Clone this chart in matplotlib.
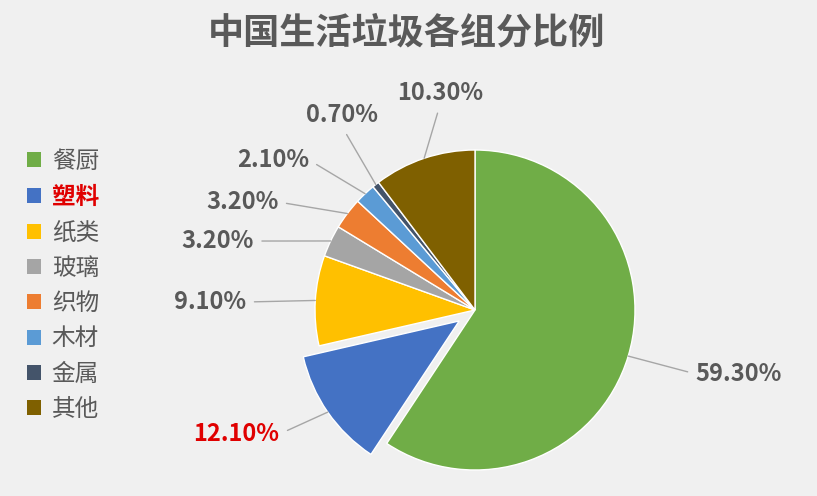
import numpy as np
import matplotlib
matplotlib.use("Agg")
import matplotlib.pyplot as plt

plt.rcParams['font.family'] = ['Noto Sans CJK SC', 'DejaVu Sans']

# data
categories = ['餐厨', '塑料', '纸类', '玻璃', '织物', '木材', '金属', '其他']
shares = [59.3, 12.1, 9.1, 3.2, 3.2, 2.1, 0.7, 10.3]
colors = ['#70AD47', '#4472C4', '#FFC000', '#A5A5A5', '#ED7D31', '#5B9BD5', '#44546A', '#7F6000']
explode = [0, 0.12, 0, 0, 0, 0, 0, 0]

# label text positions (data units, pie radius = 1) and where the leader leaves the text
label_pos = [(1.65, -0.40), (-1.49, -0.775), (-1.656, 0.05), (-1.61, 0.431),
             (-1.456, 0.675), (-1.2625, 0.9375), (-0.83, 1.219), (-0.219, 1.356)]
label_rel = [(0, 0.5), (1, 0.5), (1, 0.5), (1, 0.5), (1, 0.5), (1, 0.5), (0.5, 0), (0.5, 0)]

TEXT = '#595959'
BG = '#F0F0F0'

fig = plt.figure(figsize=(8.17, 4.96), dpi=100, facecolor=BG)
ax = fig.add_axes([0, 0, 1, 1])
ax.set_facecolor(BG)

wedges, _ = ax.pie(shares, colors=colors, explode=explode, startangle=90,
                   counterclock=False, radius=1,
                   wedgeprops=dict(edgecolor='white', linewidth=1))

# pie centre at (475, 310) px, radius 160 px
R = 160.0
ax.set_xlim(-475 / R, (817 - 475) / R)
ax.set_ylim(-(496 - 310) / R, 310 / R)
ax.set_aspect('auto')
ax.axis('off')

for i, w in enumerate(wedges):
    ang = np.deg2rad((w.theta1 + w.theta2) / 2)
    cx, cy = w.center
    anchor = (cx + np.cos(ang), cy + np.sin(ang))
    col = '#E00000' if i == 1 else TEXT
    ax.annotate(f'{shares[i]:.2f}%', xy=anchor, xytext=label_pos[i],
                ha='center', va='center', fontsize=17, fontweight='bold', color=col,
                arrowprops=dict(arrowstyle='-', color='#A6A6A6', lw=1,
                                shrinkA=4, shrinkB=0, relpos=label_rel[i]))

leg = ax.legend(wedges, categories, loc='upper left', bbox_to_anchor=(0.033, 1 - 150 / 496),
                bbox_transform=fig.transFigure, frameon=False, fontsize=17,
                handlelength=0.6, handleheight=0.6, handletextpad=0.45,
                labelspacing=0.52, borderpad=0, borderaxespad=0)
for h in leg.legend_handles:
    h.set_edgecolor('none')
for i, t in enumerate(leg.get_texts()):
    t.set_color(TEXT)
    if i == 1:
        t.set_color('#E00000')
        t.set_fontweight('bold')

fig.text(0.497, 1 - 33 / 496, '中国生活垃圾各组分比例', ha='center', va='center',
         fontsize=26, fontweight='bold', color=TEXT)

fig.savefig('out.png', dpi=100, facecolor=BG)
